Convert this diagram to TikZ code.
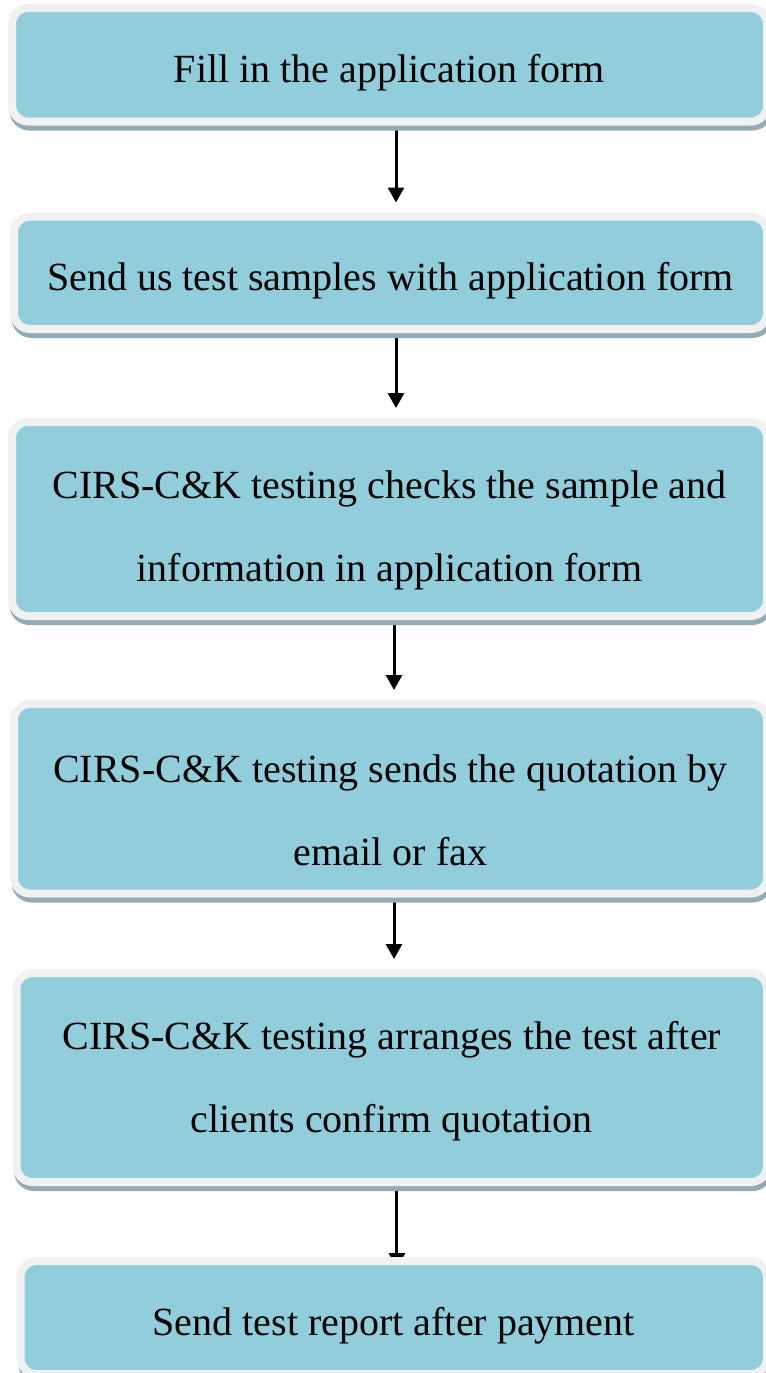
\documentclass[tikz,border=0pt]{standalone}
\usepackage{fontspec}
\setmainfont{Liberation Serif}
\usetikzlibrary{arrows.meta,shadows,backgrounds}

\definecolor{boxblue}{HTML}{92CDDC}
\definecolor{boxrim}{HTML}{F1F1F1}
\definecolor{boxshade}{HTML}{93ABB5}

\begin{document}
\begin{tikzpicture}[
    x=0.5pt, y=-0.5pt,
    box/.style={rectangle, draw=boxrim, fill=boxblue, line width=4pt, rounded corners=8pt,
        align=center, font=\fontsize{20}{41.5}\selectfont, execute at begin node={\rule{0pt}{22pt}},
        drop shadow={shadow xshift=0.75pt, shadow yshift=-2.5pt, fill=boxshade, draw=boxshade, opacity=1}},
    flow/.style={-{Triangle[width=8pt,length=7.5pt]}, line width=1.5pt, shorten <=2pt, shorten >=5pt}
]
\useasboundingbox (0,0) rectangle (766,1373);

% the six steps
\node[box, minimum width=377.5pt, minimum height=56.75pt] (b1) at (389.5,64.75) {Fill in the application form};
\node[box, minimum width=376.5pt, minimum height=56.25pt] (b2) at (390.5,272.75) {Send us test samples with application form};
\node[box, minimum width=377.5pt, minimum height=97pt] (b3) at (389.5,519) {\rule{0pt}{25pt}CIRS-C\&K testing checks the sample and\\information in application form};
\node[box, minimum width=376.5pt, minimum height=94.75pt] (b4) at (390.5,798.75) {\rule{0pt}{25pt}CIRS-C\&K testing sends the quotation by\\email or fax};
\node[box, minimum width=375.25pt, minimum height=104.5pt] (b5) at (391.75,1077.5) {\rule{0pt}{18pt}CIRS-C\&K testing arranges the test after\\clients confirm quotation};
\node[box, minimum width=373.25pt, minimum height=56.5pt] (b6) at (393.75,1317.5) {Send test report after payment};

% arrows between the steps
\begin{scope}[on background layer]
\draw[flow] ([xshift=3.25pt]b1.south) -- ([xshift=3.25pt]b1.south |- b2.north);
\draw[flow] ([xshift=2.75pt]b2.south) -- ([xshift=2.75pt]b2.south |- b3.north);
\draw[flow] ([xshift=2.25pt]b3.south) -- ([xshift=2.25pt]b3.south |- b4.north);
\draw[flow] ([xshift=1.75pt]b4.south) -- ([xshift=1.75pt]b4.south |- b5.north);
\draw[flow, shorten >=-5.5pt] ([xshift=2.6pt]b5.south) -- ([xshift=2.6pt]b5.south |- b6.north);
\end{scope}

\end{tikzpicture}
\end{document}
